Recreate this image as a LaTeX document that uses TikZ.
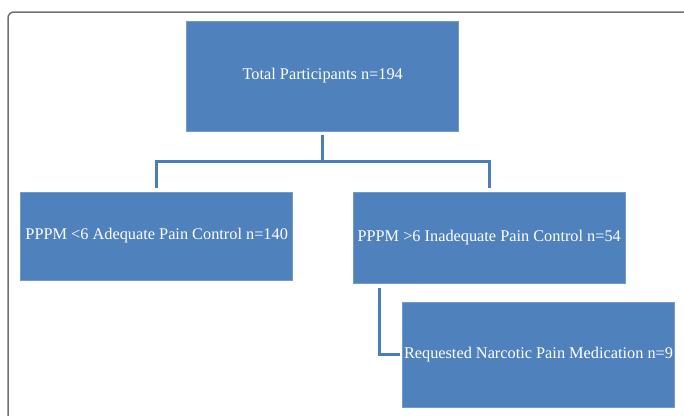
\documentclass[tikz,border=0pt]{standalone}
\usepackage{fontspec}
\setmainfont{Liberation Serif}
\usetikzlibrary{calc}
\definecolor{boxblue}{HTML}{4F81BD}
\definecolor{lineblue}{HTML}{4A7EBB}
\definecolor{framegray}{HTML}{707070}

\begin{document}
\begin{tikzpicture}[x=1pt, y=-1pt,
   box/.style={fill=boxblue, draw=boxblue!80!white, line width=0.6pt,
               text=white, inner sep=0pt, align=center,
               font=\fontsize{16.3}{19}\selectfont},
   conn/.style={draw=lineblue, line width=3pt, shorten <=4pt, shorten >=4pt}]
   \useasboundingbox (0,0) rectangle (684,415);
   \begin{scope}
     \clip (0,0) rectangle (684,415);
     \draw[framegray, line width=1.5pt, rounded corners=6pt] (8,12) rectangle (720,450);
   \end{scope}
   \node[box, minimum width=272pt, minimum height=110pt] (total) at (322.7,76) {Total Participants n=194};
   \node[box, minimum width=272pt, minimum height=88pt] (adequate) at (156.7,236) {PPPM <6 Adequate Pain Control n=140};
   \node[box, minimum width=272pt, minimum height=91pt] (inadequate) at (489.2,237.8) {PPPM >6 Inadequate Pain Control n=54};
   \node[box, minimum width=272pt, minimum height=105pt] (narcotic) at (538.5,354.8) {Requested Narcotic Pain Medication n=9};
   \coordinate (split) at ($(total.south)+(0,30)$);
   \coordinate (elbow) at ($(inadequate.south west)+(27,0)$);
   \draw[conn] (total.south) -- (split) -| (adequate.north);
   \draw[conn, shorten <=0pt] (split) -| (inadequate.north);
   \draw[conn, shorten >=2.5pt] (elbow) |- (narcotic.west);
\end{tikzpicture}
\end{document}
